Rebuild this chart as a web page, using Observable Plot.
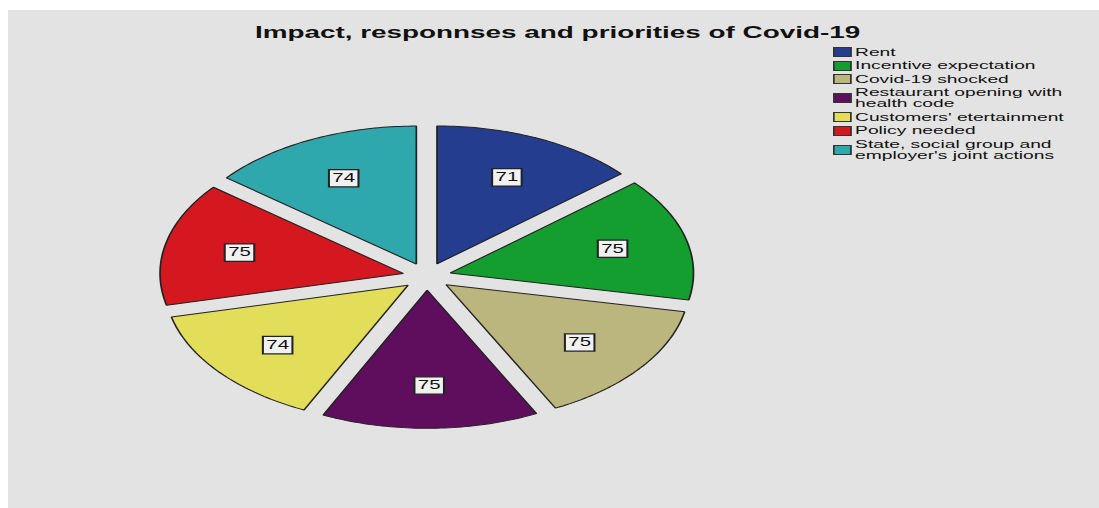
<!DOCTYPE html>
<html>
<head>
<meta charset="utf-8">
<script src="https://cdn.jsdelivr.net/npm/d3@7"></script>
<script src="https://cdn.jsdelivr.net/npm/@observablehq/plot@0.6"></script>
<style>
  html, body { margin: 0; padding: 0; background: #ffffff; }
  #page { position: relative; width: 1099px; height: 508px; overflow: hidden; background: #ffffff; }
  #panel { position: absolute; left: 8px; top: 10px; width: 1091px; height: 498px; background: #e3e3e3; }
  #stage { position: absolute; left: 0; top: 0; width: 647px; height: 508px;
           transform: scaleX(1.7); transform-origin: 0 0;
           font-family: "Liberation Sans", Arial, sans-serif; color: #111; }
  #chart { position: absolute; left: 0; top: 0; }
  #title { position: absolute; left: 128px; width: 400px; top: 23.6px; text-align: center;
           font-weight: bold; font-size: 16.4px; line-height: 16.4px; white-space: nowrap; }
  #legend { position: absolute; left: 490px; top: 45.25px; }
  .item { display: flex; align-items: center; padding: 1.25px 0; }
  .sw { width: 8.6px; height: 8px; border: 1px solid #333; flex: none; }
  .lab { margin-left: 2.4px; font-size: 11.3px; line-height: 11px; width: 124px; }
</style>
</head>
<body>
<div id="page">
  <div id="panel"></div>
  <div id="stage">
    <div id="chart"></div>
    <div id="title"></div>
    <div id="legend"></div>
  </div>
</div>
<script>
const title = "Impact, responnses and priorities of Covid-19";
const categories = [
  "Rent",
  "Incentive expectation",
  "Covid-19 shocked",
  "Restaurant opening with health code",
  "Customers' etertainment",
  "Policy needed",
  "State, social group and employer's joint actions"
];
const counts = [71, 75, 75, 75, 74, 75, 74];
const colors = ["#243d8e", "#139e2f", "#bbb57e", "#5f0e5e", "#e2de5a", "#d5171f", "#2ea7ad"];

// pie geometry (unit circle, exploded slices)
const explode = 0.1;
const labelRadius = 0.69;
const arcs = d3.pie().sort(null).startAngle(0).endAngle(2 * Math.PI)(counts);

const slicePoints = [];
const labels = [];
arcs.forEach((a, i) => {
  const m = (a.startAngle + a.endAngle) / 2;
  const ox = explode * Math.sin(m), oy = explode * Math.cos(m);
  const name = categories[i];
  slicePoints.push({name, x: ox, y: oy});
  const n = Math.ceil((a.endAngle - a.startAngle) / (Math.PI / 180));
  for (let k = 0; k <= n; k++) {
    const t = a.startAngle + (a.endAngle - a.startAngle) * k / n;
    slicePoints.push({name, x: ox + Math.sin(t), y: oy + Math.cos(t)});
  }
  labels.push({name, value: counts[i], x: ox + labelRadius * Math.sin(m), y: oy + labelRadius * Math.cos(m)});
});

const cx = 250.6, cy = 276, rx = 143, ry = 138;

const plot = Plot.plot({
  width: 647,
  height: 508,
  margin: 0,
  style: {background: "transparent", fontFamily: "Liberation Sans, Arial, sans-serif", overflow: "visible"},
  x: {domain: [-1, 1], range: [cx - rx, cx + rx], axis: null},
  y: {domain: [-1, 1], range: [cy + ry, cy - ry], axis: null},
  color: {domain: categories, range: colors},
  marks: [
    Plot.line(slicePoints, {x: "x", y: "y", z: "name", fill: "name", stroke: "#222",
      strokeWidth: 1, curve: "linear-closed", strokeLinejoin: "miter"}),
    Plot.dot(labels, {x: "x", y: "y", symbol: "square", r: 9.8, fill: "#f1f1f1",
      stroke: "#222", strokeWidth: 1.2}),
    Plot.text(labels, {x: "x", y: "y", text: d => String(d.value), fontSize: 12, fill: "#111"})
  ]
});
document.getElementById("chart").appendChild(plot);
document.getElementById("title").textContent = title;

const legend = document.getElementById("legend");
categories.forEach((c, i) => {
  const item = document.createElement("div");
  item.className = "item";
  const sw = document.createElement("div");
  sw.className = "sw";
  sw.style.background = colors[i];
  const lab = document.createElement("div");
  lab.className = "lab";
  lab.textContent = c;
  item.appendChild(sw);
  item.appendChild(lab);
  legend.appendChild(item);
});
</script>
</body>
</html>
